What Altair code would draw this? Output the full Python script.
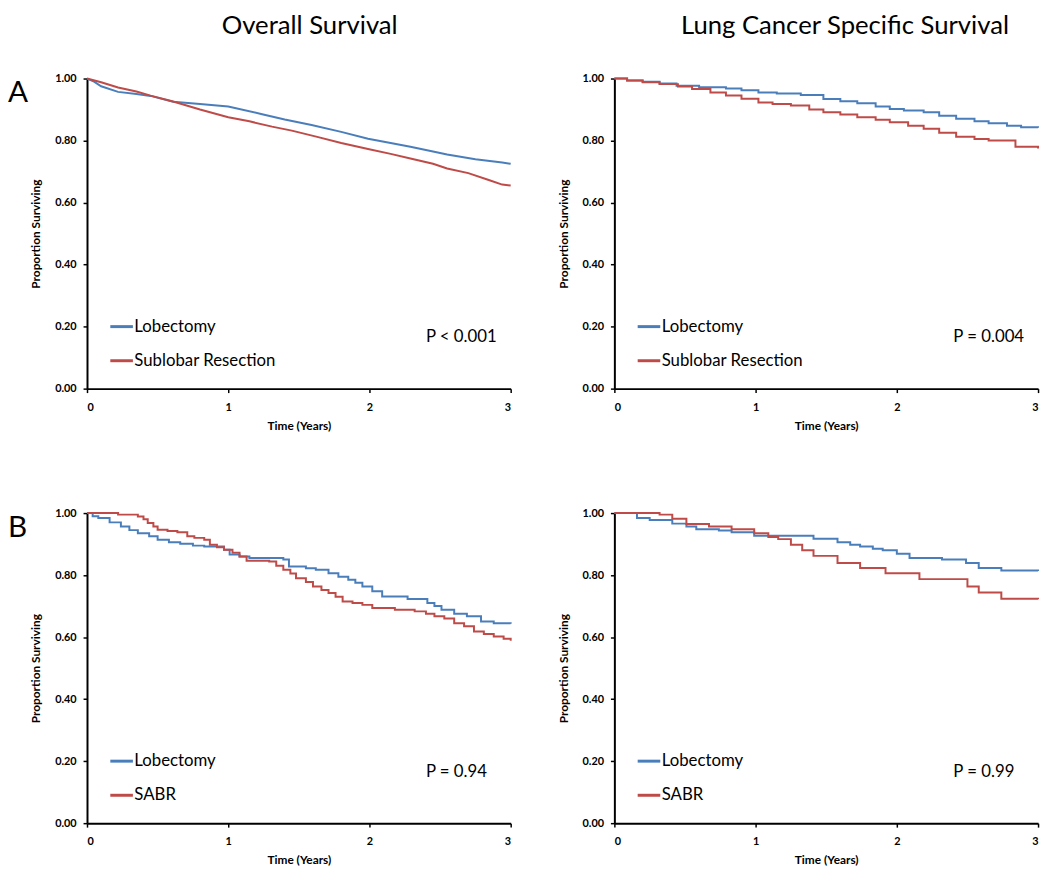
import altair as alt
import pandas as pd

# ---------------- data ----------------
# Panel A, Overall Survival
a_os_lob_t = [0, 0.05, 0.1, 0.22, 0.35, 0.45, 0.61, 0.8, 1.0, 1.24, 1.4, 1.59, 1.8, 1.99, 2.15, 2.29, 2.45, 2.55, 2.75, 2.94, 3.0]
a_os_lob_s = [1.0, 0.99, 0.975, 0.957, 0.95, 0.944, 0.925, 0.918, 0.91, 0.885, 0.868, 0.85, 0.828, 0.806, 0.792, 0.78, 0.765, 0.755, 0.74, 0.729, 0.725]
a_os_sub_t = [0, 0.1, 0.22, 0.35, 0.45, 0.61, 0.8, 1.0, 1.15, 1.31, 1.45, 1.63, 1.8, 1.99, 2.15, 2.29, 2.45, 2.55, 2.7, 2.85, 2.94, 3.0]
a_os_sub_s = [1.0, 0.988, 0.971, 0.958, 0.945, 0.926, 0.9, 0.875, 0.862, 0.845, 0.832, 0.812, 0.792, 0.773, 0.757, 0.742, 0.725, 0.71, 0.695, 0.672, 0.658, 0.655]

# Panel A, Lung Cancer Specific Survival
a_lc_lob_t = [0, 0.09, 0.2, 0.32, 0.44, 0.6, 0.79, 0.9, 1.02, 1.15, 1.32, 1.48, 1.6, 1.72, 1.85, 1.95, 2.05, 2.19, 2.3, 2.42, 2.55, 2.65, 2.78, 2.88, 3.0]
a_lc_lob_s = [1.0, 0.994, 0.99, 0.984, 0.977, 0.972, 0.968, 0.962, 0.955, 0.952, 0.947, 0.934, 0.927, 0.92, 0.91, 0.902, 0.897, 0.891, 0.88, 0.87, 0.862, 0.856, 0.848, 0.843, 0.841]
a_lc_sub_t = [0, 0.09, 0.2, 0.32, 0.45, 0.55, 0.68, 0.79, 0.9, 1.02, 1.12, 1.25, 1.38, 1.48, 1.6, 1.72, 1.85, 1.95, 2.08, 2.19, 2.3, 2.42, 2.55, 2.65, 2.84, 3.0]
a_lc_sub_s = [1.0, 0.994, 0.988, 0.982, 0.974, 0.966, 0.955, 0.945, 0.935, 0.923, 0.918, 0.913, 0.9, 0.891, 0.884, 0.875, 0.867, 0.859, 0.848, 0.838, 0.825, 0.812, 0.805, 0.8, 0.78, 0.774]

# Panel B, Overall Survival
b_os_lob_t = [0, 0.04, 0.08, 0.16, 0.24, 0.3, 0.36, 0.44, 0.5, 0.58, 0.66, 0.75, 0.83, 0.97, 1.01, 1.08, 1.15, 1.39, 1.43, 1.55, 1.62, 1.71, 1.78, 1.85, 1.9, 1.95, 2.02, 2.09, 2.27, 2.41, 2.46, 2.51, 2.6, 2.69, 2.79, 2.88, 3.0]
b_os_lob_s = [1.0, 0.99, 0.984, 0.97, 0.957, 0.945, 0.935, 0.925, 0.914, 0.906, 0.901, 0.895, 0.892, 0.882, 0.866, 0.86, 0.855, 0.85, 0.828, 0.822, 0.817, 0.806, 0.795, 0.785, 0.775, 0.763, 0.748, 0.731, 0.723, 0.71, 0.7, 0.688, 0.675, 0.667, 0.65, 0.645, 0.643]
b_os_sabr_t = [0, 0.22, 0.36, 0.4, 0.43, 0.47, 0.5, 0.57, 0.64, 0.71, 0.76, 0.83, 0.87, 0.92, 0.97, 1.03, 1.08, 1.13, 1.29, 1.34, 1.39, 1.44, 1.48, 1.55, 1.6, 1.66, 1.71, 1.76, 1.81, 1.88, 1.95, 2.02, 2.18, 2.32, 2.4, 2.46, 2.53, 2.6, 2.67, 2.74, 2.81, 2.88, 2.95, 3.0]
b_os_sabr_s = [1.0, 0.995, 0.989, 0.98, 0.968, 0.957, 0.946, 0.942, 0.938, 0.925, 0.92, 0.914, 0.898, 0.89, 0.882, 0.872, 0.86, 0.846, 0.844, 0.83, 0.817, 0.805, 0.79, 0.778, 0.763, 0.752, 0.742, 0.73, 0.715, 0.71, 0.704, 0.694, 0.688, 0.683, 0.675, 0.667, 0.66, 0.645, 0.635, 0.618, 0.61, 0.602, 0.595, 0.588]

# Panel B, Lung Cancer Specific Survival
b_lc_lob_t = [0, 0.16, 0.25, 0.41, 0.51, 0.58, 0.74, 0.83, 0.99, 1.41, 1.58, 1.67, 1.74, 1.83, 1.9, 2.0, 2.09, 2.32, 2.49, 2.58, 2.74, 3.0]
b_lc_lob_s = [1.0, 0.984, 0.978, 0.966, 0.957, 0.948, 0.944, 0.938, 0.927, 0.917, 0.906, 0.898, 0.892, 0.885, 0.88, 0.869, 0.855, 0.85, 0.839, 0.823, 0.815, 0.813]
b_lc_sabr_t = [0, 0.32, 0.41, 0.51, 0.67, 0.83, 0.99, 1.09, 1.16, 1.25, 1.33, 1.41, 1.58, 1.74, 1.92, 2.16, 2.5, 2.58, 2.74, 3.0]
b_lc_sabr_s = [1.0, 0.995, 0.982, 0.965, 0.957, 0.948, 0.935, 0.923, 0.916, 0.898, 0.88, 0.862, 0.839, 0.823, 0.806, 0.787, 0.763, 0.744, 0.724, 0.722]

col_titles = ["Overall Survival", "Lung Cancer Specific Survival"]
row_letters = ["A", "B"]
p_values = [["P < 0.001", "P = 0.004"], ["P = 0.94", "P = 0.99"]]
groups_a = ["Lobectomy", "Sublobar Resection"]
groups_b = ["Lobectomy", "SABR"]
all_groups = ["Lobectomy", "Sublobar Resection", "SABR"]
x_ticks = [0, 1, 2, 3]
y_ticks = [0.0, 0.2, 0.4, 0.6, 0.8, 1.0]
legend_y = [0.20, 0.09]

BLUE = "#4A7EBB"
RED = "#BE4B48"
FONT = "Lato"

W, H = 429, 314

CS = alt.Scale(domain=all_groups, range=[BLUE, RED, RED])


def panel(lob_t, lob_s, oth_t, oth_s, groups, pval, letter, title, interp):
    df = pd.concat([
        pd.DataFrame({"t": lob_t, "s": lob_s, "g": groups[0]}),
        pd.DataFrame({"t": oth_t, "s": oth_s, "g": groups[1]}),
    ])
    xs = alt.Scale(domain=[0, 3], nice=False)
    ys = alt.Scale(domain=[0, 1], nice=False)
    xax = alt.Axis(values=x_ticks, format="d", title="Time (Years)")
    yax = alt.Axis(values=y_ticks, format=".2f", title="Proportion Surviving")

    lines = alt.Chart(df).mark_line(strokeWidth=2, interpolate=interp).encode(
        x=alt.X("t:Q", scale=xs, axis=xax),
        y=alt.Y("s:Q", scale=ys, axis=yax),
        color=alt.Color("g:N", scale=CS, legend=None),
        detail="g:N",
    )
    leg_df = pd.DataFrame({"g": groups, "y": legend_y, "x1": [0.165] * 2, "x2": [0.325] * 2, "xt": [0.335] * 2})
    leg_lines = alt.Chart(leg_df).mark_rule(strokeWidth=3).encode(
        x=alt.X("x1:Q", scale=xs), x2="x2:Q", y=alt.Y("y:Q", scale=ys),
        color=alt.Color("g:N", scale=CS, legend=None),
    )
    leg_text = alt.Chart(leg_df).mark_text(align="left", baseline="middle", font=FONT, fontSize=17, color="black").encode(
        x=alt.X("xt:Q", scale=xs), y=alt.Y("y:Q", scale=ys), text="g:N",
    )
    p_df = pd.DataFrame({"x": [2.4], "y": [0.165], "p": [pval]})
    p_text = alt.Chart(p_df).mark_text(align="left", baseline="middle", font=FONT, fontSize=17, color="black").encode(
        x=alt.X("x:Q", scale=xs), y=alt.Y("y:Q", scale=ys), text="p:N",
    )
    layers = [lines, leg_lines, leg_text, p_text]
    if letter:
        lt = alt.Chart(pd.DataFrame({"l": [letter]})).mark_text(
            align="left", baseline="top", font=FONT, fontSize=30, color="black"
        ).encode(x=alt.value(-80), y=alt.value(0), text="l:N")
        layers.append(lt)
    ch = alt.layer(*layers).properties(width=W, height=H)
    if title:
        ch = ch.properties(title=alt.TitleParams(title[0], dx=title[1], fontSize=26, font=FONT,
                                                 fontWeight="normal", anchor="middle", offset=34, color="black"))
    return ch


pA1 = panel(a_os_lob_t, a_os_lob_s, a_os_sub_t, a_os_sub_s, groups_a, p_values[0][0], row_letters[0], (col_titles[0], 11), "linear")
pA2 = panel(a_lc_lob_t, a_lc_lob_s, a_lc_sub_t, a_lc_sub_s, groups_a, p_values[0][1], None, (col_titles[1], 19), "step-after")
pB1 = panel(b_os_lob_t, b_os_lob_s, b_os_sabr_t, b_os_sabr_s, groups_b, p_values[1][0], row_letters[1], None, "step-after")
pB2 = panel(b_lc_lob_t, b_lc_lob_s, b_lc_sabr_t, b_lc_sabr_s, groups_b, p_values[1][1], None, None, "step-after")

chart = alt.vconcat(
    alt.hconcat(pA1, pA2, spacing=43),
    alt.hconcat(pB1, pB2, spacing=43),
    spacing=77,
).properties(padding=0).configure_view(stroke=None).configure_axis(
    grid=False,
    domainColor="black", domainWidth=2,
    tickColor="black", tickSize=4, tickWidth=1.5,
    labelFont=FONT, labelFontWeight="bold", labelFontSize=11, labelColor="black",
    titleFont=FONT, titleFontWeight="bold", titleFontSize=12, titleColor="black",
).configure_axisX(labelPadding=9, titlePadding=8).configure_axisY(labelPadding=7, titlePadding=12)

chart.save("out.html", embed_options={"renderer": "svg", "actions": False})
